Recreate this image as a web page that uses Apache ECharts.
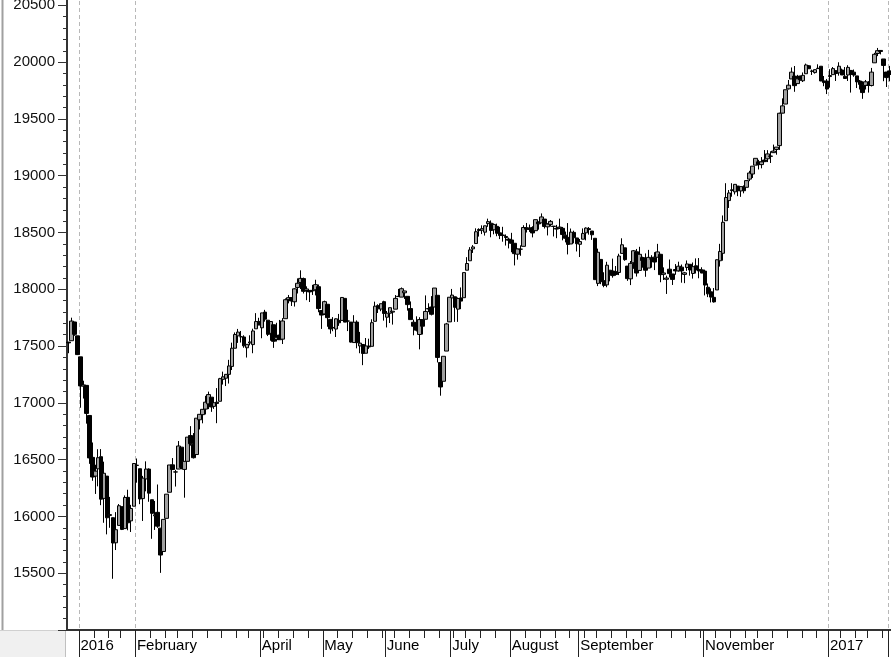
<!DOCTYPE html>
<html><head><meta charset="utf-8">
<script src="https://cdn.jsdelivr.net/npm/echarts@6/dist/echarts.min.js"></script>
<style>html,body{margin:0;padding:0;background:#fff;overflow:hidden;width:891px;height:657px}#c{position:absolute;left:0;top:-6px;width:891px;height:663px}</style>
</head><body><div id="c"></div>
<script>
const dates = [
'2015-12-28','2015-12-29','2015-12-30','2015-12-31',
'2016-01-04','2016-01-05','2016-01-06','2016-01-07','2016-01-08','2016-01-11','2016-01-12','2016-01-13','2016-01-14','2016-01-15','2016-01-19','2016-01-20','2016-01-21','2016-01-22','2016-01-25','2016-01-26','2016-01-27','2016-01-28','2016-01-29',
'2016-02-01','2016-02-02','2016-02-03','2016-02-04','2016-02-05','2016-02-08','2016-02-09','2016-02-10','2016-02-11','2016-02-12','2016-02-16','2016-02-17','2016-02-18','2016-02-19','2016-02-22','2016-02-23','2016-02-24','2016-02-25','2016-02-26','2016-02-29',
'2016-03-01','2016-03-02','2016-03-03','2016-03-04','2016-03-07','2016-03-08','2016-03-09','2016-03-10','2016-03-11','2016-03-14','2016-03-15','2016-03-16','2016-03-17','2016-03-18','2016-03-21','2016-03-22','2016-03-23','2016-03-24','2016-03-28','2016-03-29','2016-03-30','2016-03-31',
'2016-04-01','2016-04-04','2016-04-05','2016-04-06','2016-04-07','2016-04-08','2016-04-11','2016-04-12','2016-04-13','2016-04-14','2016-04-15','2016-04-18','2016-04-19','2016-04-20','2016-04-21','2016-04-22','2016-04-25','2016-04-26','2016-04-27','2016-04-28','2016-04-29',
'2016-05-02','2016-05-03','2016-05-04','2016-05-05','2016-05-06','2016-05-09','2016-05-10','2016-05-11','2016-05-12','2016-05-13','2016-05-16','2016-05-17','2016-05-18','2016-05-19','2016-05-20','2016-05-23','2016-05-24','2016-05-25','2016-05-26','2016-05-27','2016-05-31',
'2016-06-01','2016-06-02','2016-06-03','2016-06-06','2016-06-07','2016-06-08','2016-06-09','2016-06-10','2016-06-13','2016-06-14','2016-06-15','2016-06-16','2016-06-17','2016-06-20','2016-06-21','2016-06-22','2016-06-23','2016-06-24','2016-06-27','2016-06-28','2016-06-29','2016-06-30',
'2016-07-01','2016-07-05','2016-07-06','2016-07-07','2016-07-08','2016-07-11','2016-07-12','2016-07-13','2016-07-14','2016-07-15','2016-07-18','2016-07-19','2016-07-20','2016-07-21','2016-07-22','2016-07-25','2016-07-26','2016-07-27','2016-07-28','2016-07-29',
'2016-08-01','2016-08-02','2016-08-03','2016-08-04','2016-08-05','2016-08-08','2016-08-09','2016-08-10','2016-08-11','2016-08-12','2016-08-15','2016-08-16','2016-08-17','2016-08-18','2016-08-19','2016-08-22','2016-08-23','2016-08-24','2016-08-25','2016-08-26','2016-08-29','2016-08-30','2016-08-31',
'2016-09-01','2016-09-02','2016-09-06','2016-09-07','2016-09-08','2016-09-09','2016-09-12','2016-09-13','2016-09-14','2016-09-15','2016-09-16','2016-09-19','2016-09-20','2016-09-21','2016-09-22','2016-09-23','2016-09-26','2016-09-27','2016-09-28','2016-09-29','2016-09-30',
'2016-10-03','2016-10-04','2016-10-05','2016-10-06','2016-10-07','2016-10-10','2016-10-11','2016-10-12','2016-10-13','2016-10-14','2016-10-17','2016-10-18','2016-10-19','2016-10-20','2016-10-21','2016-10-24','2016-10-25','2016-10-26','2016-10-27','2016-10-28','2016-10-31',
'2016-11-01','2016-11-02','2016-11-03','2016-11-04','2016-11-07','2016-11-08','2016-11-09','2016-11-10','2016-11-11','2016-11-14','2016-11-15','2016-11-16','2016-11-17','2016-11-18','2016-11-21','2016-11-22','2016-11-23','2016-11-25','2016-11-28','2016-11-29','2016-11-30',
'2016-12-01','2016-12-02','2016-12-05','2016-12-06','2016-12-07','2016-12-08','2016-12-09','2016-12-12','2016-12-13','2016-12-14','2016-12-15','2016-12-16','2016-12-19','2016-12-20','2016-12-21','2016-12-22','2016-12-23','2016-12-27','2016-12-28','2016-12-29','2016-12-30',
'2017-01-03','2017-01-04','2017-01-05','2017-01-06','2017-01-09','2017-01-10','2017-01-11','2017-01-12','2017-01-13','2017-01-17','2017-01-18','2017-01-19','2017-01-20','2017-01-23','2017-01-24','2017-01-25','2017-01-26','2017-01-27','2017-01-30','2017-01-31',
'2017-02-01'
];

const opens = [
17535,17547,17712,17590,
17405,17147,17154,16889,16520,16355,16419,16526,16159,16355,16009,15989,15768,15921,16086,15893,16168,15961,16090,
16451,16420,16157,16330,16417,16147,16005,16036,15897,15691,15983,16213,16454,16391,16417,16610,16414,16485,16712,16634,
16545,16851,16896,16945,16991,17050,16969,17006,17014,17207,17217,17251,17321,17481,17590,17582,17580,17485,17527,17513,17652,17717,
17661,17799,17728,17612,17688,17559,17597,17561,17741,17909,17927,17890,18016,18060,18094,17989,17990,17986,17996,18023,17813,
17783,17868,17735,17664,17650,17726,17726,17920,17721,17711,17531,17711,17501,17514,17437,17500,17498,17718,17856,17826,17891,
17754,17789,17799,17825,17936,17931,17969,17938,17830,17710,17703,17602,17733,17736,17827,17844,17844,17947,17355,17190,17456,17713,
17924,17934,17825,17924,17926,18168,18251,18356,18403,18527,18520,18503,18578,18582,18524,18554,18497,18478,18465,18442,
18434,18405,18309,18353,18378,18542,18527,18543,18516,18593,18585,18618,18550,18571,18556,18537,18540,18537,18476,18457,18399,18501,18452,
18396,18441,18497,18534,18513,18449,18052,18263,18076,18039,18168,18161,18155,18148,18316,18365,18204,18092,18234,18330,18166,
18279,18262,18187,18266,18283,18282,18308,18132,18088,18177,18135,18174,18162,18195,18131,18192,18220,18139,18207,18175,18171,
18160,18018,17978,17929,17994,18251,18317,18604,18781,18876,18858,18909,18866,18903,18898,18970,19015,19093,19122,19098,19138,
19149,19173,19203,19231,19265,19551,19631,19765,19852,19877,19811,19878,19836,19898,19968,19922,19908,19943,19964,19835,19833,
19873,19890,19925,19906,19931,19876,19887,19927,19912,19879,19834,19805,19795,19795,19794,19994,20076,20103,20028,19913,
19923
];

const highs = [
17536,17750,17714,17590,
17405,17195,17154,16889,16651,16455,16592,16593,16482,16355,16172,15989,16038,16109,16086,16185,16235,16102,16466,
16510,16420,16357,16485,16423,16147,16136,16281,15897,15974,16196,16453,16514,16410,16664,16610,16485,16698,16795,16734,
16865,16900,16944,17062,17099,17050,17048,17130,17220,17275,17251,17379,17530,17620,17651,17633,17595,17515,17595,17653,17790,17749,
17793,17819,17728,17716,17688,17705,17730,17746,17920,17950,17927,18009,18096,18167,18103,18026,17990,18039,18084,18042,17813,
17900,17868,17735,17755,17744,17783,17928,17920,17820,17711,17772,17726,17625,17514,17571,17565,17736,17891,17868,17873,17899,
17809,17838,17807,17949,18003,18016,17987,17938,17893,17733,17762,17754,17733,17946,17877,17940,18011,17947,17355,17410,17704,17930,
18003,17934,17928,18016,18147,18283,18371,18389,18537,18537,18563,18559,18622,18606,18580,18578,18550,18550,18483,18455,
18497,18405,18360,18387,18564,18584,18570,18555,18614,18598,18668,18618,18582,18610,18556,18567,18622,18549,18508,18583,18535,18516,18452,
18443,18536,18545,18548,18513,18449,18358,18263,18150,18242,18168,18270,18205,18313,18449,18365,18204,18249,18346,18355,18374,
18287,18316,18347,18300,18327,18400,18312,18193,18120,18262,18135,18222,18243,18218,18153,18254,18220,18236,18272,18275,18194,
18173,18051,18008,18011,18263,18400,18650,18934,18874,18934,18925,18909,18904,18915,18957,19043,19084,19153,19140,19164,19226,
19225,19215,19274,19252,19555,19681,19757,19843,19953,19966,19888,19881,19909,19987,19974,19934,19934,19981,19964,19878,19852,
19938,19957,19930,19999,19943,19957,19973,19929,19935,19879,19843,19832,19843,19833,19949,20082,20125,20106,20028,19913,
19967
];

const lows = [
17437,17547,17590,17421,
16957,17038,16817,16463,16314,16198,16265,16099,15944,15842,15900,15451,15704,15921,15880,15893,15878,15863,16090,
16297,16108,15960,16221,16129,15803,15881,15899,15503,15691,15983,16213,16410,16263,16417,16415,16165,16485,16623,16510,
16545,16766,16820,16898,16945,16921,16947,16821,17014,17161,17148,17170,17289,17481,17528,17531,17485,17399,17506,17437,17652,17685,
17569,17715,17588,17547,17484,17540,17555,17518,17741,17876,17853,17848,17963,18002,17963,17904,17888,17950,17946,17798,17651,
17773,17670,17609,17631,17580,17678,17726,17711,17632,17531,17531,17480,17437,17332,17437,17475,17498,17718,17791,17807,17724,
17664,17703,17689,17825,17936,17931,17915,17812,17733,17595,17629,17471,17602,17736,17799,17770,17844,17356,17063,17190,17456,17712,
17916,17713,17713,17825,17926,18168,18251,18320,18403,18464,18486,18473,18550,18458,18484,18467,18442,18419,18385,18360,
18326,18210,18261,18295,18378,18500,18505,18457,18516,18525,18585,18535,18474,18552,18465,18450,18531,18431,18413,18307,18399,18405,18333,
18284,18441,18431,18481,18435,18085,18028,18045,18018,18018,18070,18102,18119,18125,18316,18251,18074,18037,18180,18112,18166,
18190,18110,18187,18190,18169,18282,18062,18082,17959,18104,18038,18128,18155,18058,18054,18162,18120,18094,18139,18097,18142,
17946,17931,17884,17883,17994,18200,18252,18604,18716,18815,18835,18820,18814,18845,18898,18952,18980,19093,19055,19065,19120,
19120,19112,19200,19185,19227,19549,19631,19759,19852,19739,19811,19836,19825,19898,19941,19887,19899,19943,19833,19788,19719,
19775,19890,19834,19881,19887,19855,19834,19732,19871,19772,19759,19677,19759,19732,19786,19994,20053,20068,19832,19781,
19831
];

const closes = [
17528,17720,17603,17425,
17149,17158,16907,16515,16347,16399,16517,16152,16380,15988,16016,15766,15883,16094,15886,16167,15944,16070,16466,
16449,16154,16337,16417,16205,16027,16014,15914,15660,15974,16196,16453,16413,16392,16620,16431,16485,16698,16640,16517,
16865,16899,16943,17006,17073,16964,17001,16995,17213,17229,17251,17325,17481,17602,17623,17582,17502,17515,17536,17633,17716,17685,
17792,17737,17603,17716,17542,17577,17556,17721,17908,17926,17897,18004,18053,18096,17982,18003,17977,17990,18041,17830,17773,
17891,17750,17651,17660,17740,17705,17928,17711,17720,17535,17710,17530,17526,17435,17501,17492,17706,17851,17828,17873,17787,
17789,17838,17807,17920,17938,18005,17985,17865,17733,17675,17640,17733,17675,17805,17830,17780,18011,17400,17140,17410,17695,17930,
17949,17841,17919,17896,18147,18227,18347,18373,18507,18517,18534,18559,18596,18518,18571,18493,18474,18473,18456,18432,
18405,18314,18355,18353,18544,18529,18534,18496,18613,18576,18637,18553,18574,18598,18553,18530,18548,18482,18449,18395,18503,18454,18401,
18420,18492,18539,18526,18480,18085,18326,18067,18034,18212,18124,18120,18130,18293,18392,18261,18094,18228,18339,18143,18308,
18254,18168,18281,18269,18240,18329,18129,18144,18099,18138,18087,18162,18203,18162,18145,18223,18170,18199,18170,18161,18143,
18037,17960,17931,17889,18260,18333,18590,18808,18848,18869,18924,18868,18904,18868,18957,19024,19084,19153,19098,19122,19124,
19192,19171,19217,19252,19550,19615,19757,19797,19912,19793,19853,19844,19884,19975,19942,19919,19934,19946,19834,19820,19763,
19882,19943,19900,19964,19887,19856,19954,19892,19886,19826,19804,19732,19827,19799,19912,20069,20101,20094,19971,19864,
19891
];

const labelDates = ['2016-01-04','2016-02-01','2016-04-01','2016-05-02','2016-06-01','2016-07-01','2016-08-01','2016-09-01','2016-11-01','2017-01-03'];
const labelTexts = ['2016','February','April','May','June','July','August','September','November','2017'];
const longTickDates = ['2016-01-04','2016-02-01','2016-04-01','2016-05-02','2016-06-01','2016-07-01','2016-08-01','2016-09-01','2016-11-01','2017-01-03','2017-02-01'];
const gridLineDates = ['2016-01-04','2016-02-01','2017-01-03','2017-02-01'];
const yTickValues = [15500,16000,16500,17000,17500,18000,18500,19000,19500,20000,20500];

[opens, highs, lows, closes].forEach(function (a, k) {
  if (a.length !== dates.length) throw new Error('length mismatch in array ' + k + ': ' + a.length + ' vs ' + dates.length);
});

// first trading day of each calendar week
function weekOf(d) {
  const t = Date.UTC(+d.slice(0,4), +d.slice(5,7) - 1, +d.slice(8,10)) / 86400000;
  return Math.floor((t - 4) / 7);
}
const weekStart = dates.map(function (d, i) { return i > 0 && weekOf(d) !== weekOf(dates[i - 1]); });

const candleData = dates.map(function (d, i) { return [opens[i], closes[i], lows[i], highs[i]]; });

const OFF = 6; // container is shifted up by 6px so that 20600 sits just above the window
const chart = echarts.init(document.getElementById('c'), null, {renderer: 'canvas'});
chart.setOption({
  animation: false,
  backgroundColor: '#ffffff',
  grid: {left: 67, right: 0, top: 0, bottom: 27},
  xAxis: [{
    type: 'category',
    data: dates,
    boundaryGap: true,
    axisLine: {show: true, lineStyle: {color: '#333333', width: 2}},
    axisTick: {
      show: true, length: 27,
      interval: function (i) { return longTickDates.indexOf(dates[i]) >= 0; },
      lineStyle: {color: '#222222', width: 1}
    },
    axisLabel: {
      show: true,
      interval: function (i) { return labelDates.indexOf(dates[i]) >= 0; },
      formatter: function (v) { const k = labelDates.indexOf(v); return k >= 0 ? labelTexts[k] : ''; },
      align: 'left', margin: 8,
      fontSize: 15, fontFamily: 'Arial, "Liberation Sans", sans-serif', color: '#000000'
    },
    splitLine: {
      show: true,
      interval: function (i) { return gridLineDates.indexOf(dates[i]) >= 0; },
      lineStyle: {color: '#b8b8b8', width: 1, type: [4, 3]}
    }
  }, {
    type: 'category',
    data: dates,
    boundaryGap: true,
    position: 'bottom',
    axisLine: {show: false},
    axisTick: {
      show: true, length: 8,
      interval: function (i) { return weekStart[i]; },
      lineStyle: {color: '#222222', width: 1}
    },
    axisLabel: {show: false},
    splitLine: {show: false}
  }],
  yAxis: {
    type: 'value',
    position: 'left',
    min: 15000, max: 20600, interval: 500,
    axisLine: {show: true, lineStyle: {color: '#333333', width: 2}},
    axisTick: {show: true, length: 9, lineStyle: {color: '#333333', width: 1}},
    minorTick: {show: true, splitNumber: 5, length: 4, lineStyle: {color: '#333333', width: 1}},
    axisLabel: {
      margin: 12,
      formatter: function (v) { return yTickValues.indexOf(v) >= 0 ? String(v) : ''; },
      fontSize: 15, fontFamily: 'Arial, "Liberation Sans", sans-serif', color: '#111111'
    },
    splitLine: {show: false}
  },
  series: [{
    type: 'candlestick',
    xAxisIndex: 0,
    data: candleData,
    barWidth: 4,
    itemStyle: {
      color: '#a0a0a0', color0: '#000000',
      borderColor: '#000000', borderColor0: '#000000', borderWidth: 1
    }
  }],
  graphic: [
    {type: 'rect', shape: {x: 0, y: 631 + OFF, width: 66, height: 26}, style: {fill: '#f0f0f0'}, silent: true},
    {type: 'line', shape: {x1: 2.5, y1: 0, x2: 2.5, y2: 630 + OFF}, style: {stroke: '#a0a0a0', lineWidth: 2}, silent: true},
    {type: 'line', shape: {x1: 0, y1: 630.5 + OFF, x2: 66, y2: 630.5 + OFF}, style: {stroke: '#d0d0d0', lineWidth: 1}, silent: true},
    {type: 'line', shape: {x1: 65.5, y1: 631 + OFF, x2: 65.5, y2: 657 + OFF}, style: {stroke: '#c0c0c0', lineWidth: 1}, silent: true}
  ]
});
</script></body></html>
